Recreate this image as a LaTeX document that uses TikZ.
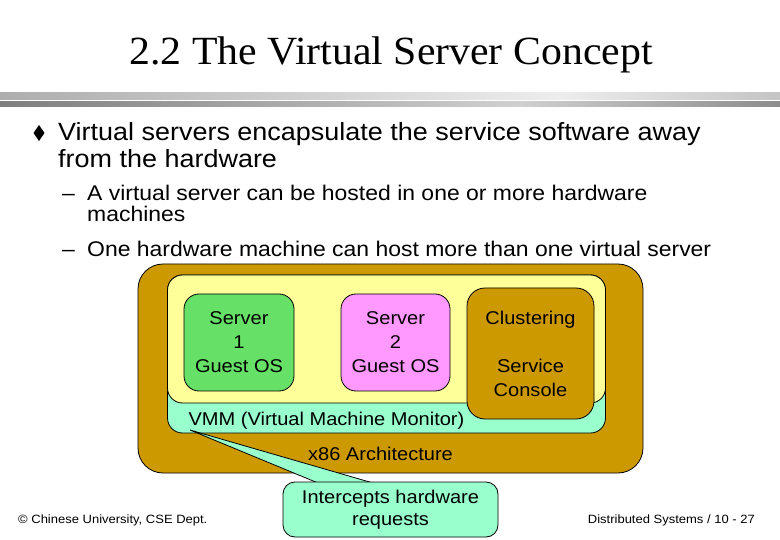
\documentclass[tikz,border=0pt]{standalone}
\usepackage{fontspec}
\setmainfont[FakeStretch=1.083]{Liberation Serif}
\setsansfont[FakeStretch=1.083]{Liberation Sans}
\newfontfamily\titlefont[FakeStretch=1.045]{Liberation Serif}
\definecolor{hwbrown}{HTML}{CC9900}
\definecolor{vmmmint}{HTML}{99FFCC}
\definecolor{guestyellow}{HTML}{FFFF99}
\definecolor{srvgreen}{HTML}{66E066}
\definecolor{srvpink}{HTML}{FF99FF}
\definecolor{bandA}{HTML}{ADADAD}
\definecolor{bandB}{HTML}{EDEDED}
\definecolor{bandC}{HTML}{C4C4C4}
\definecolor{bandD}{HTML}{7E7E7E}
\definecolor{bandE}{HTML}{D0D0D0}
\definecolor{bandF}{HTML}{8C8C8C}
\tikzset{
  box/.style={draw=black, line width=0.8pt, inner sep=0pt, outer sep=0pt},
  boxtext/.style={font=\sffamily\fontsize{18.5}{24}\selectfont, align=center, text=black},
  bodyA/.style={font=\sffamily\fontsize{24.9}{28}\selectfont, inner sep=0pt, anchor=base west},
  bodyB/.style={font=\sffamily\fontsize{21.2}{24}\selectfont, inner sep=0pt, anchor=base west},
  foot/.style={font=\sffamily\fontsize{12}{14}\selectfont, inner sep=0pt},
}
\begin{document}
\begin{tikzpicture}[x=1pt,y=-1pt]
\useasboundingbox (0,0) rectangle (780,540);
\fill[white] (0,0) rectangle (780,540);
% title
\node[font=\titlefont\fontsize{40}{44}\selectfont, inner sep=0pt, anchor=base] (title) at (391,65) {2.2 The Virtual Server Concept};
% bands
\shade[left color=bandA, right color=bandB] (0,93) rectangle (560,100);
\shade[left color=bandB, right color=bandC] (560,93) rectangle (780,100);
\shade[left color=bandD, right color=bandE] (0,102) rectangle (520,107);
\shade[left color=bandE, right color=bandF] (520,102) rectangle (780,107);
% bullets
\fill (39,125) -- (44.5,133) -- (39,141) -- (33.5,133) -- cycle;
\node[bodyA] (l1) at (58,141) {Virtual servers encapsulate the service software away};
\node[bodyA] (l2) at (58,168) {from the hardware};
\node[bodyB] (d1) at (62,201) {–};
\node[bodyB] (l3) at (87,201) {A virtual server can be hosted in one or more hardware};
\node[bodyB] (l4) at (87,222) {machines};
\node[bodyB] (d2) at (62,257) {–};
\node[bodyB] (l5) at (87,257) {One hardware machine can host more than one virtual server};
% diagram
\node[box, fill=hwbrown, minimum width=505pt, minimum height=209pt, rounded corners=25pt] (hw) at (390.5,368.5) {};
\node[box, fill=vmmmint, minimum width=438pt, minimum height=158pt, rounded corners=15pt] (vmm) at (386.5,354) {};
\node[box, fill=guestyellow, minimum width=438pt, minimum height=128pt, rounded corners=15pt] (guest) at (386.5,339) {};
\node[box, boxtext, fill=srvgreen, minimum width=110pt, minimum height=97pt, rounded corners=15pt] (s1) at (239,342.5) {Server\\1\\Guest OS};
\node[box, boxtext, fill=srvpink, minimum width=109pt, minimum height=97pt, rounded corners=15pt] (s2) at (395.5,342.5) {Server\\2\\Guest OS};
\node[box, boxtext, fill=hwbrown, minimum width=127pt, minimum height=131pt, rounded corners=18pt] (sc) at (530.5,353.5) {Clustering\\[24pt]Service\\Console};
\node[boxtext, inner sep=0pt, anchor=base] (vmmlabel) at (326.5,425) {VMM (Virtual Machine Monitor)};
\node[boxtext, inner sep=0pt, anchor=base] (hwlabel) at (380.5,460) {x86 Architecture};
% callout
\coordinate (tip) at (190,430);
\coordinate (wa) at (318,483);
\coordinate (wb) at (373,483);
\fill[vmmmint] (tip) -- (wa) -- (wb) -- cycle;
\draw[line width=0.8pt] (wa) -- (tip) -- (wb);
\node[box, fill=vmmmint, minimum width=215pt, minimum height=55pt, rounded corners=12pt, font=\sffamily\fontsize{18.5}{22}\selectfont, align=center] (call) at (390.5,509.5) {Intercepts hardware\\requests};
% footer
\node[foot, anchor=base west] (fl) at (18,523) {\textcopyright{} Chinese University, CSE Dept.};
\node[foot, anchor=base east] (fr) at (755,523) {Distributed Systems / 10 - 27};
\end{tikzpicture}
\end{document}
